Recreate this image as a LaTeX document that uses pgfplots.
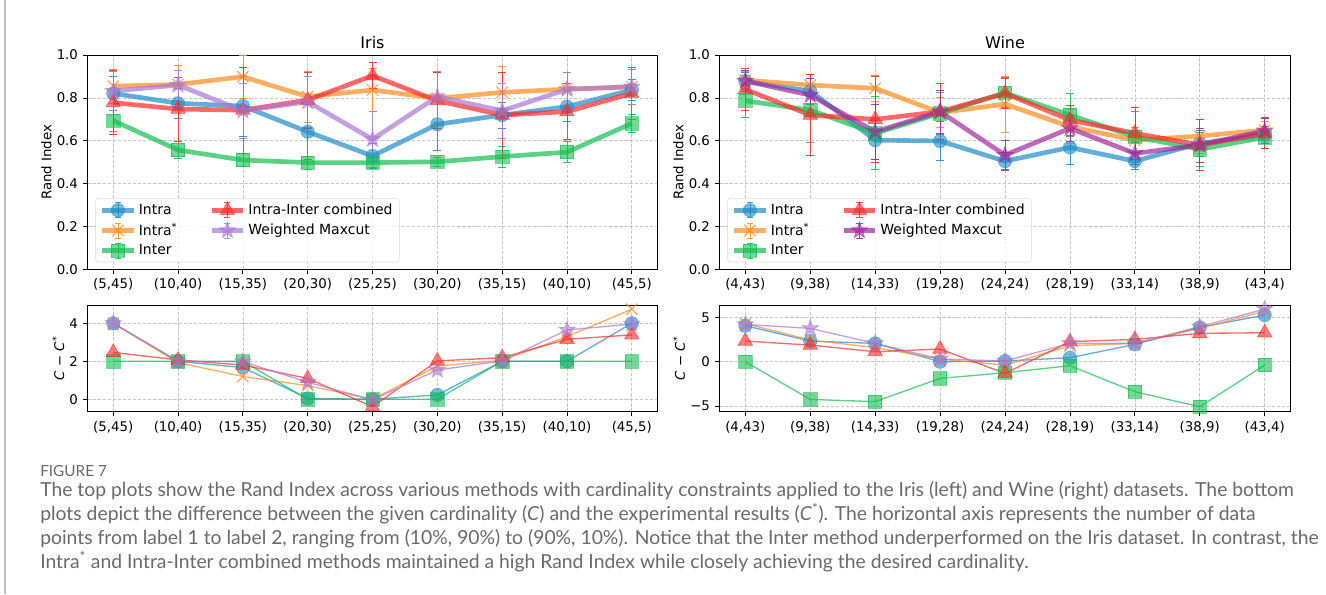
\documentclass[border=0pt]{standalone}
\usepackage{fontspec}
\setmainfont{DejaVu Sans}
\newfontfamily\capfont{Lato}
\usepackage{pgfplots}
\usepackage{pgfplotstable}
\pgfplotsset{compat=1.18}
\usetikzlibrary{plotmarks}

\definecolor{cIntra}{RGB}{30,140,200}
\definecolor{cIntraS}{RGB}{255,140,30}
\definecolor{cInter}{RGB}{20,190,80}
\definecolor{cComb}{RGB}{255,40,40}
\definecolor{cWI}{RGB}{170,120,210}
\definecolor{cWW}{RGB}{160,40,160}
\definecolor{capgray}{RGB}{105,105,105}

\pgfdeclareplotmark{fstar}{%
 \pgfpathmoveto{\pgfpointpolar{90}{\pgfplotmarksize}}%
 \pgfpathlineto{\pgfpointpolar{126}{0.4\pgfplotmarksize}}%
 \pgfpathlineto{\pgfpointpolar{162}{\pgfplotmarksize}}%
 \pgfpathlineto{\pgfpointpolar{198}{0.4\pgfplotmarksize}}%
 \pgfpathlineto{\pgfpointpolar{234}{\pgfplotmarksize}}%
 \pgfpathlineto{\pgfpointpolar{270}{0.4\pgfplotmarksize}}%
 \pgfpathlineto{\pgfpointpolar{306}{\pgfplotmarksize}}%
 \pgfpathlineto{\pgfpointpolar{342}{0.4\pgfplotmarksize}}%
 \pgfpathlineto{\pgfpointpolar{18}{\pgfplotmarksize}}%
 \pgfpathlineto{\pgfpointpolar{54}{0.4\pgfplotmarksize}}%
 \pgfpathclose\pgfusepathqfillstroke}

\pgfplotstableread{
x a ae b be c ce d de w we
0 0.821 0.08 0.855 0.08 0.694 0.05 0.778 0.15 0.832 0.09
1 0.775 0.07 0.863 0.09 0.557 0.04 0.748 0.15 0.860 0.07
2 0.762 0.14 0.899 0.10 0.510 0.03 0.743 0.20 0.740 0.13
3 0.642 0.13 0.806 0.12 0.498 0.03 0.790 0.13 0.782 0.12
4 0.529 0.06 0.837 0.10 0.498 0.02 0.904 0.06 0.607 0.13
5 0.677 0.12 0.798 0.12 0.502 0.02 0.787 0.13 0.806 0.12
6 0.720 0.06 0.826 0.12 0.526 0.05 0.720 0.20 0.740 0.13
7 0.759 0.07 0.841 0.08 0.547 0.05 0.736 0.13 0.840 0.08
8 0.837 0.05 0.852 0.08 0.681 0.04 0.821 0.12 0.852 0.08
}\iristop

\pgfplotstableread{
x a ae b be c ce d de w we
0 0.879 0.04 0.883 0.04 0.787 0.08 0.840 0.10 0.879 0.05
1 0.832 0.06 0.860 0.05 0.743 0.15 0.720 0.19 0.813 0.08
2 0.603 0.09 0.845 0.06 0.635 0.17 0.700 0.20 0.642 0.13
3 0.599 0.09 0.731 0.07 0.728 0.10 0.736 0.13 0.736 0.10
4 0.505 0.04 0.771 0.13 0.824 0.07 0.821 0.07 0.533 0.07
5 0.569 0.08 0.666 0.08 0.720 0.10 0.697 0.07 0.658 0.06
6 0.505 0.04 0.603 0.06 0.619 0.12 0.635 0.12 0.541 0.05
7 0.588 0.06 0.622 0.08 0.560 0.08 0.580 0.12 0.580 0.08
8 0.627 0.04 0.650 0.04 0.616 0.05 0.635 0.07 0.647 0.06
}\winetop

\pgfplotstableread{
x a b c d w
0 4 4 2 2.47 4
1 2 1.93 2 2.07 2
2 1.67 1.2 2 1.8 1.98
3 0.05 0.72 0 1.1 0.9
4 0 0 0 -0.39 -0.03
5 0.23 1.75 0 2.02 1.54
6 2 2.05 2 2.19 2.02
7 2 3.3 2 3.16 3.65
8 4 4.74 2 3.39 3.96
}\irisbot

\pgfplotstableread{
x a b c d w
0 4.06 4.3 0 2.33 4.2
1 2.33 2.44 -4.25 1.88 3.76
2 2.07 1.6 -4.5 1.13 2.07
3 0 0.3 -1.88 1.43 0.3
4 0.08 -0.38 -1.24 -1.32 0.08
5 0.45 1.8 -0.45 2.26 2.07
6 1.95 2.07 -3.38 2.52 2.07
7 3.87 3.76 -5.08 3.2 3.95
8 5.26 5.7 -0.38 3.27 5.94
}\winebot

\pgfplotsset{
 base/.style={scale only axis, xmin=-0.4, xmax=8.4, xtick={0,...,8},
  grid=major, grid style={dash pattern=on 2.5pt off 1.3pt, gray!45, line width=0.5pt},
  tick align=outside, major tick length=3.5pt, tick pos=left,
  tick style={black, line width=0.6pt}, axis line style={line width=0.8pt},
  tick label style={font=\fontsize{10}{12}\selectfont},
  label style={font=\fontsize{10}{12}\selectfont},
  title style={font=\fontsize{12}{14}\selectfont, yshift=-4.5pt},
  ylabel style={yshift=-3pt},
 },
 topax/.style={base, width=427.8pt, height=160.7pt, ymin=0, ymax=1, ytick={0,0.2,...,1.0},
  yticklabel style={/pgf/number format/.cd, fixed, fixed zerofill, precision=1, assume math mode=true},
  ylabel={Rand Index},
  legend cell align=left,
  legend style={at={(0.014,0.033)}, anchor=south west, draw=gray!30, rounded corners=2pt,
    fill=white, fill opacity=0.8, text opacity=1, font=\fontsize{10.5}{12.5}\selectfont,
    inner xsep=3pt, inner ysep=2pt, row sep=1pt,
    /tikz/every even column/.append style={column sep=22pt}},
  legend columns=2,
  legend image code/.code={
    \draw[mark repeat=2, mark phase=2] plot coordinates {(0cm,0cm) (0.42cm,0cm) (0.84cm,0cm)};
    \draw[line width=0.5pt, solid, draw opacity=0.85] (0.42cm,-0.2cm) -- (0.42cm,0.2cm)
      (0.34cm,-0.2cm) -- (0.50cm,-0.2cm) (0.34cm,0.2cm) -- (0.50cm,0.2cm);
  },
 },
 botax/.style={base, width=427.8pt, height=80pt, ylabel={\textit{C} − \textit{C}\textsuperscript{*}}},
 tl/.style={line width=3.5pt, draw opacity=0.7, mark options={solid, line width=0.5pt, fill opacity=0.6, draw opacity=0.6}},
 bl/.style={line width=1pt, draw opacity=0.7, mark options={solid, line width=0.5pt, fill opacity=0.6, draw opacity=0.6}},
 mIntra/.style={color=cIntra, mark=*, mark size=5pt},
 mIntraS/.style={color=cIntraS, mark=x, mark size=6pt},
 mInter/.style={color=cInter, mark=square*, mark size=5pt},
 mComb/.style={color=cComb, mark=triangle*, mark size=6.3pt},
 mW/.style={mark=fstar, mark size=6.5pt},
 eb/.style={error bars/.cd, y dir=both, y explicit, error mark=|,
   error bar style={line width=0.5pt, solid, draw opacity=0.85},
   error mark options={line width=0.6pt, mark size=3pt, draw opacity=0.9}},
}

\begin{document}
\begin{tikzpicture}
\useasboundingbox (0,0) rectangle (994.5pt,445.5pt);
\draw[gray!50, line width=0.8pt] (3.75pt,0) -- (3.75pt,445.5pt);

% ---------- Iris top
\begin{axis}[topax, at={(65.5pt,243.5pt)}, anchor=south west, title={Iris},
  xticklabels={(5,45),(10,40),(15,35),(20,30),(25,25),(30,20),(35,15),(40,10),(45,5)}]
\addplot[forget plot, tl, mIntra, eb] table[x=x,y=a,y error=ae]{\iristop};
\addplot[forget plot, tl, mIntraS, mark options={line width=1pt}, eb] table[x=x,y=b,y error=be]{\iristop};
\addplot[forget plot, tl, mInter, eb] table[x=x,y=c,y error=ce]{\iristop};
\addplot[forget plot, tl, mComb, eb] table[x=x,y=d,y error=de]{\iristop};
\addplot[forget plot, tl, mW, color=cWI, eb] table[x=x,y=w,y error=we]{\iristop};
\addlegendimage{tl, mIntra}\addlegendentry{Intra}
\addlegendimage{tl, mComb}\addlegendentry{Intra-Inter combined}
\addlegendimage{tl, mIntraS, mark options={line width=1pt}}\addlegendentry{Intra\textsuperscript{*}}
\addlegendimage{tl, mW, color=cWI}\addlegendentry{Weighted Maxcut}
\addlegendimage{tl, mInter}\addlegendentry{Inter}
\end{axis}

% ---------- Wine top
\begin{axis}[topax, width=428.5pt, at={(539.5pt,243.5pt)}, anchor=south west, title={Wine},
  xticklabels={(4,43),(9,38),(14,33),(19,28),(24,24),(28,19),(33,14),(38,9),(43,4)}]
\addplot[forget plot, tl, mIntra, eb] table[x=x,y=a,y error=ae]{\winetop};
\addplot[forget plot, tl, mIntraS, mark options={line width=1pt}, eb] table[x=x,y=b,y error=be]{\winetop};
\addplot[forget plot, tl, mInter, eb] table[x=x,y=c,y error=ce]{\winetop};
\addplot[forget plot, tl, mComb, eb] table[x=x,y=d,y error=de]{\winetop};
\addplot[forget plot, tl, mW, color=cWW, eb] table[x=x,y=w,y error=we]{\winetop};
\addlegendimage{tl, mIntra}\addlegendentry{Intra}
\addlegendimage{tl, mComb}\addlegendentry{Intra-Inter combined}
\addlegendimage{tl, mIntraS, mark options={line width=1pt}}\addlegendentry{Intra\textsuperscript{*}}
\addlegendimage{tl, mW, color=cWW}\addlegendentry{Weighted Maxcut}
\addlegendimage{tl, mInter}\addlegendentry{Inter}
\end{axis}

% ---------- Iris bottom
\begin{axis}[botax, at={(65.5pt,136.7pt)}, anchor=south west,
  ymin=-0.655, ymax=4.96, ytick={0,2,4}, yticklabels={0,2,4},
  xticklabels={(5,45),(10,40),(15,35),(20,30),(25,25),(30,20),(35,15),(40,10),(45,5)}]
\addplot[bl, mIntra] table[x=x,y=a]{\irisbot};
\addplot[bl, mIntraS, mark options={line width=1pt}] table[x=x,y=b]{\irisbot};
\addplot[bl, mInter] table[x=x,y=c]{\irisbot};
\addplot[bl, mComb] table[x=x,y=d]{\irisbot};
\addplot[bl, mW, color=cWI] table[x=x,y=w]{\irisbot};
\end{axis}

% ---------- Wine bottom
\begin{axis}[botax, width=428.5pt, at={(539.5pt,136.7pt)}, anchor=south west,
  ymin=-5.64, ymax=6.39, ytick={-5,0,5}, yticklabels={−5,0,5},
  xticklabels={(4,43),(9,38),(14,33),(19,28),(24,24),(28,19),(33,14),(38,9),(43,4)}]
\addplot[bl, mIntra] table[x=x,y=a]{\winebot};
\addplot[bl, mIntraS, mark options={line width=1pt}] table[x=x,y=b]{\winebot};
\addplot[bl, mInter] table[x=x,y=c]{\winebot};
\addplot[bl, mComb] table[x=x,y=d]{\winebot};
\addplot[bl, mW, color=cWI] table[x=x,y=w]{\winebot};
\end{axis}

% ---------- caption
\begin{scope}[every node/.style={anchor=base west, inner sep=0pt, text=capgray}]
\node at (30pt,88.5pt) {\capfont\fontsize{11.5}{13}\selectfont FIGURE 7};
\node at (30pt,73pt) {\capfont\fontsize{14.5}{17}\selectfont The top plots show the Rand Index across various methods with cardinality constraints applied to the Iris (left) and Wine (right) datasets. The bottom};
\node at (30pt,55pt) {\capfont\fontsize{14.5}{17}\selectfont plots depict the difference between the given cardinality (\textit{C}) and the experimental results (\textit{C}\textsuperscript{*}). The horizontal axis represents the number of data};
\node at (30pt,37pt) {\capfont\fontsize{14.5}{17}\selectfont points from label 1 to label 2, ranging from (10\%, 90\%) to (90\%, 10\%). Notice that the Inter method underperformed on the Iris dataset. In contrast, the};
\node at (30pt,19.5pt) {\capfont\fontsize{14.5}{17}\selectfont Intra\textsuperscript{*} and Intra-Inter combined methods maintained a high Rand Index while closely achieving the desired cardinality.};
\end{scope}
\end{tikzpicture}
\end{document}
